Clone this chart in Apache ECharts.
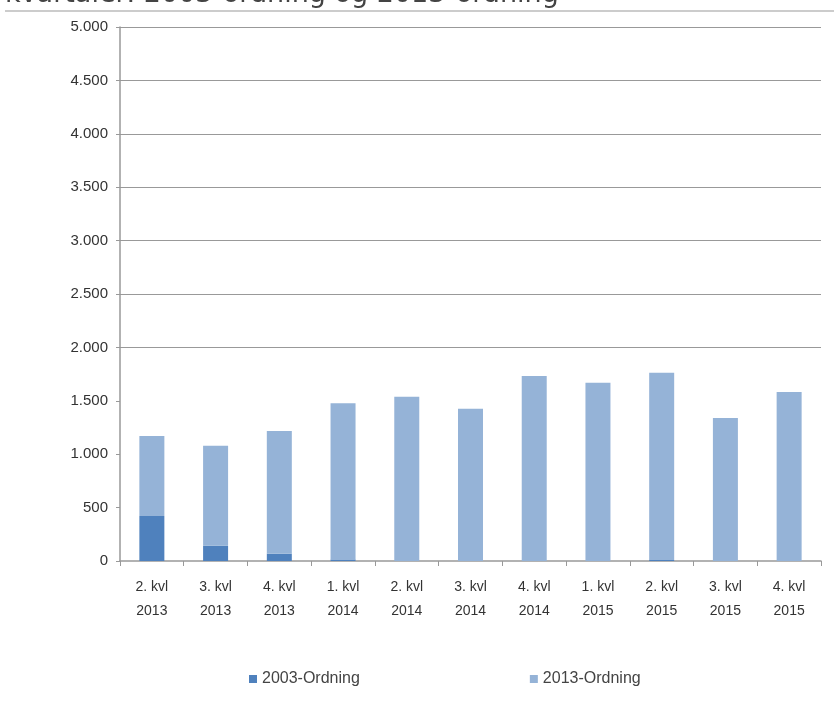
<!DOCTYPE html>
<html>
<head>
<meta charset="utf-8">
<script src="https://cdn.jsdelivr.net/npm/echarts@6/dist/echarts.min.js"></script>
<style>
html,body{margin:0;padding:0;background:#fff;}
#chart{width:834px;height:711px;}
</style>
</head>
<body>
<div id="chart"></div>
<script>
const categories = ['2. kvl\n2013','3. kvl\n2013','4. kvl\n2013','1. kvl\n2014','2. kvl\n2014','3. kvl\n2014','4. kvl\n2014','1. kvl\n2015','2. kvl\n2015','3. kvl\n2015','4. kvl\n2015'];
const ordning2003 = [421, 143, 68, 15, 0, 0, 0, 0, 10, 0, 0];
const ordning2013 = [749, 936, 1149, 1461, 1538, 1426, 1732, 1669, 1752, 1338, 1582];
const seriesNames = ['2003-Ordning', '2013-Ordning'];
const titleText = 'kvartaler: 2003-ordning og 2013-ordning';

const chart = echarts.init(document.getElementById('chart'));
const fontAxis = "'Liberation Sans Narrow','Liberation Sans',Arial,sans-serif";
chart.setOption({
  animation: false,
  backgroundColor: '#fff',
  graphic: [
    { type: 'text', left: 5, top: -19, style: { text: titleText, fontSize: 27, fill: '#444', fontFamily: "'DejaVu Sans',Verdana,sans-serif" } },
    { type: 'line', shape: { x1: 5, y1: 11, x2: 834, y2: 11 }, style: { stroke: '#bbb', lineWidth: 1.5 } }
  ],
  legend: {
    top: 666,
    left: 244,
    itemGap: 170,
    itemWidth: 8,
    itemHeight: 8,
    icon: 'rect',
    textStyle: { fontSize: 16, color: '#444', fontFamily: fontAxis },
    data: seriesNames
  },
  grid: { left: 120, right: 13, top: 27, bottom: 150 },
  xAxis: {
    type: 'category',
    data: categories,
    axisLine: { lineStyle: { color: '#999', width: 1.5 } },
    axisTick: { show: true, length: 5, lineStyle: { color: '#999' } },
    axisLabel: { fontSize: 14, color: '#333', lineHeight: 24, margin: 14, fontFamily: fontAxis }
  },
  yAxis: {
    type: 'value',
    min: 0, max: 5000, interval: 500,
    axisLine: { show: true, lineStyle: { color: '#999', width: 1.5 } },
    axisTick: { show: true, length: 4, lineStyle: { color: '#999' } },
    axisLabel: { fontSize: 15, color: '#333', margin: 12, fontFamily: fontAxis,
      formatter: v => v >= 1000 ? Math.floor(v / 1000) + '.' + String(v % 1000).padStart(3, '0') : String(v) },
    splitLine: { show: true, lineStyle: { color: ['rgba(0,0,0,0)','rgba(0,0,0,0)','rgba(0,0,0,0)','rgba(0,0,0,0)','#999','#999','#999','#999','#999','#999','#999'], width: 1.2 } }
  },
  series: [
    { name: seriesNames[0], type: 'bar', stack: 'total', data: ordning2003, barWidth: 25, itemStyle: { color: '#4F81BD' } },
    { name: seriesNames[1], type: 'bar', stack: 'total', data: ordning2013, barWidth: 25, itemStyle: { color: '#95B3D7' } }
  ]
});
</script>
</body>
</html>
